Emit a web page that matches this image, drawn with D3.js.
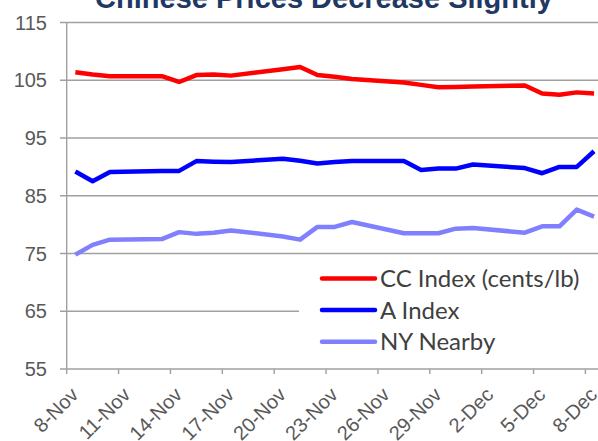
<!DOCTYPE html>
<html>
<head>
<meta charset="utf-8">
<script src="https://cdn.jsdelivr.net/npm/d3@7"></script>
<style>
    body { margin: 0; background: #fff; overflow: hidden; }
    svg { display: block; }
</style>
</head>
<body>
<div id="chart"></div>
<script>
'use strict';

const dates = [
    '2017-11-08', '2017-11-09', '2017-11-10', '2017-11-13', '2017-11-14',
    '2017-11-15', '2017-11-16', '2017-11-17', '2017-11-20', '2017-11-21',
    '2017-11-22', '2017-11-23', '2017-11-24', '2017-11-27', '2017-11-28',
    '2017-11-29', '2017-11-30', '2017-12-01', '2017-12-04', '2017-12-05',
    '2017-12-06', '2017-12-07', '2017-12-08'
];
const ccIndex = [
    106.4, 106.0, 105.7, 105.7, 104.7, 105.9, 106.0, 105.8, 106.9, 107.3,
    105.9, 105.6, 105.2, 104.6, 104.2, 103.8, 103.85, 103.9, 104.1, 102.7,
    102.5, 102.9, 102.7
];
const aIndex = [
    89.2, 87.5, 89.1, 89.3, 89.3, 91.0, 90.9, 90.85, 91.4, 91.05,
    90.6, 90.85, 91.0, 91.0, 89.45, 89.7, 89.7, 90.4, 89.8, 88.9,
    90.0, 90.0, 92.7
];
const nyNearby = [
    74.8, 76.5, 77.4, 77.5, 78.7, 78.4, 78.6, 79.0, 77.95, 77.4,
    79.6, 79.6, 80.45, 78.5, 78.5, 78.5, 79.3, 79.4, 78.6, 79.7,
    79.7, 82.6, 81.4
];
const seriesNames = ['CC Index (cents/lb)', 'A Index', 'NY Nearby'];
const seriesColors = ['#ff0000', '#0000ff', '#8080ff'];
const yTicks = [55, 65, 75, 85, 95, 105, 115];
const xTickDates = [
    '2017-11-08', '2017-11-11', '2017-11-14', '2017-11-17', '2017-11-20',
    '2017-11-23', '2017-11-26', '2017-11-29', '2017-12-02', '2017-12-05',
    '2017-12-08'
];
const title = 'Chinese Prices Decrease Slightly';

const width = 598;
const height = 441;
const parse = d3.timeParse('%Y-%m-%d');
const fmt = d3.timeFormat('%-d-%b');
const halfDay = 12 * 3600 * 1000;

const x = d3.scaleTime()
    .domain([parse('2017-11-08'), parse('2017-12-09')])
    .range([66.7, 602.7]);
const y = d3.scaleLinear()
    .domain([55, 115])
    .range([369, 22.5]);

const svg = d3.select('#chart').append('svg')
    .attr('width', width)
    .attr('height', height);

// gridlines
svg.append('g')
    .selectAll('line')
    .data(yTicks)
    .join('line')
    .attr('x1', 60)
    .attr('x2', width)
    .attr('y1', d => y(d))
    .attr('y2', d => y(d))
    .attr('stroke', '#a0a0a0')
    .attr('stroke-width', 1.4);

// y axis line
svg.append('line')
    .attr('x1', x.range()[0]).attr('x2', x.range()[0])
    .attr('y1', y(115)).attr('y2', y(55))
    .attr('stroke', '#a0a0a0')
    .attr('stroke-width', 1.4);

// x ticks
const xt = xTickDates.map(parse);
svg.append('g')
    .selectAll('line')
    .data(xt)
    .join('line')
    .attr('x1', d => x(d)).attr('x2', d => x(d))
    .attr('y1', y(55)).attr('y2', y(55) + 5)
    .attr('stroke', '#a0a0a0')
    .attr('stroke-width', 1.4);

// y labels
svg.append('g')
    .selectAll('text')
    .data(yTicks)
    .join('text')
    .attr('x', 47)
    .attr('y', d => y(d))
    .attr('dy', '0.36em')
    .attr('text-anchor', 'end')
    .attr('font-family', 'Liberation Sans, Arial, sans-serif')
    .attr('font-size', 20)
    .attr('fill', '#595959')
    .text(d => d);

// x labels
svg.append('g')
    .selectAll('text')
    .data(xt)
    .join('text')
    .attr('transform', d => 'translate(' + (x(d) + 13) + ',396) rotate(-45)')
    .attr('text-anchor', 'end')
    .attr('font-family', 'Liberation Sans, Arial, sans-serif')
    .attr('font-size', 20)
    .attr('fill', '#595959')
    .text(d => fmt(d));

// series
const allSeries = [ccIndex, aIndex, nyNearby];
const line = d3.line()
    .x((d, i) => x(new Date(parse(dates[i]).getTime() + halfDay)))
    .y(d => y(d));

allSeries.slice().reverse().forEach((s, k) => {
    const idx = allSeries.length - 1 - k;
    svg.append('path')
        .datum(s)
        .attr('d', line)
        .attr('fill', 'none')
        .attr('stroke', seriesColors[idx])
        .attr('stroke-width', 4.5)
        .attr('stroke-linejoin', 'round');
});

// legend
const legend = svg.append('g');
legend.append('rect')
    .attr('x', 299)
    .attr('y', 255)
    .attr('width', 310)
    .attr('height', 112.5)
    .attr('fill', '#fff');

seriesNames.forEach((name, i) => {
    const ly = 278.5 + i * 31.6;
    legend.append('line')
        .attr('x1', 322).attr('x2', 375)
        .attr('y1', ly).attr('y2', ly)
        .attr('stroke', seriesColors[i])
        .attr('stroke-width', 4.5)
        .attr('stroke-linecap', 'round');
    legend.append('text')
        .attr('x', 380)
        .attr('y', ly + 8.5)
        .attr('font-family', 'Lato, sans-serif')
        .attr('font-size', 24)
        .attr('fill', '#404040')
        .text(name);
});

// title
svg.append('text')
    .attr('x', 324)
    .attr('y', 7.5)
    .attr('text-anchor', 'middle')
    .attr('font-family', 'Liberation Sans, Arial, sans-serif')
    .attr('font-weight', 'bold')
    .attr('font-size', 29)
    .attr('fill', '#1f3864')
    .text(title);
</script>
</body>
</html>
